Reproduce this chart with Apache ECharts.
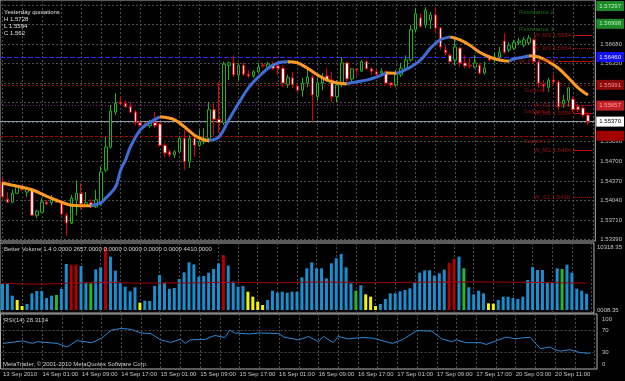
<!DOCTYPE html>
<html>
<head>
<meta charset="utf-8">
<script src="https://cdn.jsdelivr.net/npm/echarts@6/dist/echarts.min.js"></script>
<style>
html, body { margin: 0; padding: 0; background: #000; }
#chart { width: 625px; height: 381px; }
</style>
</head>
<body>
<div id="chart"></div>
<script>
const FONT = 'Liberation Sans';
const GRID_COLOR = '#4c4c4c';
const TEXT_COLOR = '#c4c4c4';

const timeLabels = ['13 Sep 2010', '14 Sep 01:00', '14 Sep 09:00', '14 Sep 17:00', '15 Sep 01:00',
    '15 Sep 09:00', '15 Sep 17:00', '16 Sep 01:00', '16 Sep 09:00', '16 Sep 17:00',
    '17 Sep 01:00', '17 Sep 09:00', '17 Sep 17:00', '20 Sep 03:00', '20 Sep 11:00'];

// [open, close, low, high]
const candles = [
    [1.5435, 1.5410, 1.5405, 1.5442], [1.5406, 1.5401, 1.5400, 1.5418], [1.5401, 1.5416, 1.5400, 1.5422],
    [1.5416, 1.5427, 1.5415, 1.5430], [1.5427, 1.5422, 1.5420, 1.5430], [1.5418, 1.5423, 1.5410, 1.5425],
    [1.5423, 1.5379, 1.5378, 1.5425], [1.5379, 1.5386, 1.5374, 1.5388], [1.5384, 1.5401, 1.5383, 1.5408],
    [1.5401, 1.5398, 1.5396, 1.5405], [1.5400, 1.5405, 1.5396, 1.5413], [1.5405, 1.5401, 1.5400, 1.5408],
    [1.5400, 1.5381, 1.5379, 1.5405], [1.5379, 1.5366, 1.5344, 1.5383], [1.5366, 1.5408, 1.5364, 1.5413],
    [1.5405, 1.5416, 1.5379, 1.5438], [1.5416, 1.5398, 1.5388, 1.5433], [1.5395, 1.5400, 1.5393, 1.5418],
    [1.5400, 1.5393, 1.5391, 1.5406], [1.5393, 1.5405, 1.5391, 1.5422], [1.5401, 1.5452, 1.5395, 1.5462],
    [1.5455, 1.5494, 1.5452, 1.5511], [1.5494, 1.5555, 1.5492, 1.5565], [1.5553, 1.5568, 1.5548, 1.5585],
    [1.5570, 1.5567, 1.5563, 1.5579], [1.5568, 1.5562, 1.5560, 1.5573], [1.5562, 1.5553, 1.5551, 1.5570],
    [1.5553, 1.5536, 1.5531, 1.5557], [1.5535, 1.5531, 1.5528, 1.5538], [1.5531, 1.5530, 1.5526, 1.5536],
    [1.5530, 1.5535, 1.5526, 1.5540], [1.5535, 1.5530, 1.5526, 1.5553], [1.5533, 1.5497, 1.5494, 1.5536],
    [1.5497, 1.5484, 1.5477, 1.5501], [1.5486, 1.5481, 1.5477, 1.5489], [1.5481, 1.5486, 1.5476, 1.5489],
    [1.5486, 1.5509, 1.5484, 1.5513], [1.5509, 1.5469, 1.5455, 1.5523], [1.5469, 1.5509, 1.5459, 1.5514],
    [1.5509, 1.5497, 1.5477, 1.5514], [1.5497, 1.5503, 1.5494, 1.5523], [1.5503, 1.5509, 1.5499, 1.5526],
    [1.5509, 1.5557, 1.5501, 1.5570], [1.5557, 1.5541, 1.5514, 1.5568], [1.5541, 1.5535, 1.5518, 1.5604],
    [1.5535, 1.5634, 1.5531, 1.5638], [1.5632, 1.5636, 1.5607, 1.5638], [1.5636, 1.5616, 1.5612, 1.5649],
    [1.5616, 1.5632, 1.5607, 1.5636], [1.5632, 1.5617, 1.5614, 1.5636], [1.5617, 1.5614, 1.5611, 1.5624],
    [1.5614, 1.5621, 1.5611, 1.5624], [1.5621, 1.5629, 1.5619, 1.5636], [1.5632, 1.5631, 1.5627, 1.5636],
    [1.5629, 1.5634, 1.5627, 1.5638], [1.5634, 1.5627, 1.5624, 1.5638], [1.5631, 1.5627, 1.5616, 1.5636],
    [1.5627, 1.5602, 1.5595, 1.5632], [1.5600, 1.5611, 1.5594, 1.5616], [1.5611, 1.5599, 1.5594, 1.5621],
    [1.5597, 1.5590, 1.5587, 1.5600], [1.5590, 1.5602, 1.5579, 1.5611], [1.5602, 1.5612, 1.5595, 1.5624],
    [1.5612, 1.5582, 1.5535, 1.5616], [1.5579, 1.5602, 1.5573, 1.5612], [1.5602, 1.5612, 1.5590, 1.5619],
    [1.5614, 1.5607, 1.5604, 1.5627], [1.5607, 1.5579, 1.5570, 1.5621], [1.5579, 1.5599, 1.5570, 1.5607],
    [1.5599, 1.5636, 1.5595, 1.5646], [1.5636, 1.5609, 1.5604, 1.5638], [1.5609, 1.5626, 1.5604, 1.5627],
    [1.5626, 1.5624, 1.5616, 1.5627], [1.5622, 1.5638, 1.5621, 1.5641], [1.5638, 1.5626, 1.5624, 1.5641],
    [1.5626, 1.5622, 1.5616, 1.5629], [1.5621, 1.5617, 1.5612, 1.5624], [1.5619, 1.5622, 1.5617, 1.5627],
    [1.5621, 1.5602, 1.5599, 1.5624], [1.5602, 1.5599, 1.5594, 1.5604], [1.5599, 1.5616, 1.5595, 1.5624],
    [1.5616, 1.5627, 1.5612, 1.5636], [1.5627, 1.5641, 1.5624, 1.5649], [1.5641, 1.5692, 1.5638, 1.5700],
    [1.5692, 1.5719, 1.5688, 1.5729], [1.5712, 1.5698, 1.5695, 1.5720], [1.5700, 1.5725, 1.5695, 1.5730],
    [1.5708, 1.5717, 1.5693, 1.5722], [1.5717, 1.5695, 1.5688, 1.5730], [1.5695, 1.5663, 1.5658, 1.5697],
    [1.5658, 1.5653, 1.5649, 1.5666], [1.5649, 1.5638, 1.5636, 1.5653], [1.5641, 1.5663, 1.5632, 1.5680],
    [1.5661, 1.5636, 1.5629, 1.5663], [1.5636, 1.5631, 1.5627, 1.5649], [1.5632, 1.5631, 1.5627, 1.5644],
    [1.5629, 1.5636, 1.5627, 1.5649], [1.5632, 1.5619, 1.5616, 1.5636], [1.5619, 1.5627, 1.5616, 1.5638],
    [1.5646, 1.5641, 1.5638, 1.5649], [1.5641, 1.5646, 1.5636, 1.5654], [1.5646, 1.5654, 1.5638, 1.5663],
    [1.5673, 1.5654, 1.5651, 1.5686], [1.5658, 1.5666, 1.5654, 1.5671], [1.5661, 1.5670, 1.5658, 1.5675],
    [1.5670, 1.5673, 1.5666, 1.5678], [1.5666, 1.5675, 1.5663, 1.5680], [1.5670, 1.5678, 1.5666, 1.5683],
    [1.5675, 1.5638, 1.5634, 1.5678], [1.5638, 1.5602, 1.5594, 1.5641], [1.5600, 1.5597, 1.5587, 1.5607],
    [1.5595, 1.5607, 1.5587, 1.5611], [1.5607, 1.5604, 1.5600, 1.5616], [1.5604, 1.5562, 1.5557, 1.5607],
    [1.5567, 1.5573, 1.5560, 1.5582], [1.5573, 1.5594, 1.5562, 1.5595], [1.5575, 1.5557, 1.5553, 1.5579],
    [1.5562, 1.5557, 1.5553, 1.5567], [1.5560, 1.5548, 1.5545, 1.5563], [1.5548, 1.5537, 1.5531, 1.5553],
];

// smoothed average, [bar index, price]
const maPoints = [
    [0, 1.5433], [3, 1.5428], [6, 1.5422], [9, 1.5411], [12, 1.5401], [14, 1.5396], [18, 1.5395],
    [20, 1.5400], [21, 1.5408], [23, 1.5427], [24, 1.5455], [25, 1.5472], [26, 1.5494], [28, 1.5523],
    [30, 1.5536], [32, 1.5545], [35, 1.5540], [37, 1.5528], [39, 1.5514], [41, 1.5506], [42, 1.5505],
    [44, 1.5511], [46, 1.5540], [48, 1.5568], [50, 1.5594], [52, 1.5612], [54, 1.5627], [56, 1.5636],
    [58, 1.5638], [60, 1.5636], [62, 1.5627], [64, 1.5616], [66, 1.5607], [68, 1.5602], [70, 1.5601],
    [72, 1.5604], [74, 1.5607], [76, 1.5612], [78, 1.5619], [80, 1.56185], [81, 1.5621], [83, 1.5629],
    [85, 1.5641], [87, 1.5661], [89, 1.5675], [91, 1.5680], [93, 1.5675], [95, 1.5666], [97, 1.5654],
    [99, 1.5646], [101, 1.5641], [103, 1.5639], [104, 1.5643], [106, 1.5646], [107, 1.5648], [109, 1.5646],
    [111, 1.5638], [113, 1.5627], [115, 1.5611], [117, 1.5594], [119, 1.5582],
];

const volumes = [
    4259, 4368, 2348, 1638, 655, 983, 2730, 3112, 3112, 1966,
    2348, 2457, 3440, 7535, 7426, 7426, 7207, 4477, 4368, 6661,
    6989, 10318, 8736, 6443, 4477, 3822, 3058, 3713, 1201, 1529,
    1474, 3931, 5733, 4477, 3440, 3604, 5078, 6170, 7808, 7480,
    5460, 5569, 6115, 6716, 7644, 9009, 7262, 4641, 3822, 3931,
    3003, 2184, 1365, 819, 1638, 3167, 2839, 3003, 2839, 3003,
    3003, 5351, 6825, 7808, 6825, 6825, 5187, 7644, 8463, 9173,
    6989, 4368, 3167, 4040, 2566, 2184, 655, 983, 1802, 2730,
    2730, 3058, 3276, 3549, 4477, 6115, 6497, 6497, 5624, 6006,
    6607, 7753, 8354, 8736, 6825, 3713, 2566, 3167, 2730, 1092,
    1037, 1638, 2184, 2184, 1966, 1802, 2184, 4914, 7043, 6552,
    6552, 4532, 4532, 6825, 6716, 7426, 6115, 3494, 3167, 2657,
];
// b = normal, r = climax, g = low volume churn, y = low volume
const volumeKinds = ('bbbyybbbbb' + 'bgbbrrbbgb' + 'brbbbbbbyb' + 'bbbbbbbbbb' + 'bbbbbrbbbb' + 'yyyybbbbbb' +
    'bbbbbbbbbb' + 'bbgbyyybbb' + 'bbbbbbbbbb' + 'brrbgbbbby' + 'ybbbbbbbbb' + 'bbbbgbbbbb').split('');
const volumeAverage = [[0, 4370], [8, 4210], [12, 4370], [22, 4540], [26, 4400], [40, 4450], [45, 4540],
    [55, 4450], [65, 4600], [75, 4450], [85, 4550], [95, 4600], [105, 4550], [119, 4410]];

const rsiPoints = [
    [0, 46.5], [4, 51], [6, 46.5], [7, 49.7], [11, 46.5], [13, 40], [15, 51.6], [18, 47.8], [20, 56],
    [22, 70.6], [24, 73.8], [26, 72], [28, 65.5], [30, 64.3], [32, 52.9], [34, 48.4], [36, 54], [37, 46.5],
    [38, 52.9], [41, 54], [43, 61], [45, 57.3], [46, 70.6], [47, 65.5], [50, 63.7], [52, 65.5], [56, 64.3],
    [57, 58], [60, 52.9], [62, 59.2], [64, 49.7], [65, 59.2], [67, 47.8], [68, 59.2], [70, 54.8], [73, 57.3],
    [75, 56], [79, 46.5], [81, 52.9], [84, 70], [87, 68.7], [89, 54.8], [91, 49.7], [92, 52.9], [94, 47.8],
    [97, 47.8], [98, 44.6], [100, 51], [102, 58], [104, 54.8], [106, 57.3], [107, 57.3], [109, 37], [111, 40],
    [112, 35], [113, 32.5], [115, 35], [117, 30], [119, 28.3],
];

const priceGrid = [1.5339, 1.5371, 1.5404, 1.5437, 1.5470, 1.5503, 1.5536, 1.5569, 1.5602, 1.5635,
    1.5668, 1.5701, 1.5734];
const priceLabels = [1.5339, 1.5371, 1.5404, 1.5437, 1.5470, 1.5503, 1.5635, 1.5668];
const PRICE_MIN = 1.53355;
const PRICE_MAX = 1.57422;

// horizontal levels: full width lines with a box on the price scale
const levelPrices = [1.5732, 1.5702, 1.5646, 1.5599, 1.5564, 1.5537, 1.5513];
const levelBoxes = ['1.57297', '1.56998', '1.56460', '1.55991', '1.55657', '1.55370', '1.55130'];
const levelNames = ['Resistance 2', 'Resistance 1', '', 'Support 1', 'Support 2', '', 'Support 3'];

// weekly pivots: short lines at the right edge
const pivotPrices = [1.5683, 1.5661, 1.5638, 1.5565, 1.5551, 1.5489, 1.5410];
const pivotNames = ['W_M3 1.5684', 'W_M3 1.5664', 'W_PP 1.5641', 'W_S1 1.5564', 'W_M1 1.5554', 'W_M2 1.5484', 'W_S1 1.5410'];

const categories = candles.map((_, i) => String(i)).concat(['']);

const levelStyles = [
    {line: 'transparent', type: 'solid', box: '#1f8a2a', text: '#b8f0b8'},
    {line: 'transparent', type: 'solid', box: '#1f8a2a', text: '#b8f0b8'},
    {line: '#2a2aff', type: [5, 2], box: '#1010f0', text: '#e0e0ff'},
    {line: '#8a0a0a', type: [2, 2], box: '#8a0a0a', text: '#ff9090'},
    {line: '#8a1a9a', type: [1, 2], box: '#c0202a', text: '#ffa0a0'},
    {line: '#8a98a4', type: 'solid', box: '#ffffff', text: '#000000'},
    {line: '#b00000', type: [3, 2], box: '#a00000', text: '#a80000'},
];
const pivotStart = [116, 116, 113, 116, 116, 116, 116];
const pivotDotted = [false, true, false, true, false, false, true];

function timeAxis(gridIndex, showLabels) {
    return {
        type: 'category', gridIndex: gridIndex, data: categories, boundaryGap: true,
        axisLine: {show: false}, axisTick: {show: false},
        axisLabel: {
            show: showLabels, interval: (i) => i % 8 === 0, align: 'left', margin: 2,
            formatter: (v, i) => timeLabels[i / 8] || '',
            color: TEXT_COLOR, fontSize: 6, fontFamily: FONT,
        },
        splitLine: {
            show: true, alignWithLabel: true, interval: (i) => i % 4 === 0,
            lineStyle: {color: GRID_COLOR, type: [2, 2], width: 1},
        },
    };
}

function buildMaRuns() {
    const runs = [];
    let rising = maPoints[1][1] > maPoints[0][1];
    let current = [maPoints[0]];
    for (let i = 1; i < maPoints.length; i++) {
        const up = maPoints[i][1] > maPoints[i - 1][1];
        if (up !== rising) {
            runs.push({rising: rising, data: current});
            current = [maPoints[i - 1]];
            rising = up;
        }
        current.push(maPoints[i]);
    }
    runs.push({rising: rising, data: current});
    return runs;
}

function levelMarkLines() {
    const lines = levelPrices.map((p, i) => ({
        yAxis: p,
        lineStyle: {color: levelStyles[i].line, type: levelStyles[i].type, width: 1, opacity: 1},
        label: {
            show: true, position: 'end', distance: 1, formatter: levelBoxes[i],
            backgroundColor: levelStyles[i].box, color: levelStyles[i].text,
            padding: [2, 3, 2, 3], fontSize: 6, fontFamily: FONT,
        },
    }));
    const pivots = pivotPrices.map((p, i) => [
        {coord: [pivotStart[i], p], lineStyle: {color: '#c01010', type: pivotDotted[i] ? [1, 1] : 'solid', width: 1}},
        {coord: [120, p]},
    ]);
    return lines.concat(pivots);
}

function annotationData() {
    const data = [];
    levelPrices.forEach((p, i) => {
        if (levelNames[i]) {
            const green = levelNames[i].startsWith('Res');
            data.push({value: [green ? 105 : 106, p - (green ? 0.0010 : 0.0009)], name: levelNames[i],
                label: {color: green ? '#1e8a1e' : '#a01414'}});
        }
    });
    pivotPrices.forEach((p, i) => {
        data.push({value: [i === 2 ? 105 : 108, p], name: pivotNames[i], label: {color: '#c01818'}});
    });
    return data;
}

const chart = echarts.init(document.getElementById('chart'), null, {renderer: 'canvas'});

const maSeries = buildMaRuns().map((run) => ({
    type: 'line', xAxisIndex: 0, yAxisIndex: 0, data: run.data, smooth: 0.35,
    symbol: 'none', silent: true, z: 4,
    lineStyle: {color: run.rising ? '#3f6fd6' : '#ff9a22', width: 3},
}));

const volumeColors = {b: '#1a8fd0', r: '#b00000', g: '#2cb52c', y: '#f4f400'};

chart.setOption({
    animation: false,
    backgroundColor: '#000',
    title: [
        {text: 'Yesterday quotations\nH 1.5728\nL 1.5594\nC 1.562', left: 4, top: 9, padding: 0,
            textStyle: {color: '#e0e0e0', fontSize: 6, fontWeight: 'normal', fontFamily: FONT, lineHeight: 7}},
        {text: 'Better Volume 1.4 0.0000 2657.0000 0.0000 0.0000 0.0000 0.0000 4410.0000', left: 4, top: 246,
            padding: 0, textStyle: {color: '#d0d0d0', fontSize: 6, fontWeight: 'normal', fontFamily: FONT}},
        {text: 'RSI(14) 28.3134', left: 4, top: 317, padding: 0,
            textStyle: {color: '#d0d0d0', fontSize: 6, fontWeight: 'normal', fontFamily: FONT}},
        {text: 'MetaTrader, © 2001-2010 MetaQuotes Software Corp.', left: 3, top: 361, padding: 0,
            textStyle: {color: '#d0d0d0', fontSize: 6, fontWeight: 'normal', fontFamily: FONT}},
    ],
    grid: [
        {left: 0, right: 28, top: 0, height: 241, show: true, borderColor: '#b4b4b4', borderWidth: 1},
        {left: 0, right: 28, top: 243, height: 70, show: true, borderColor: '#b4b4b4', borderWidth: 1},
        {left: 0, right: 28, top: 314, height: 55, show: true, borderColor: '#b4b4b4', borderWidth: 1},
    ],
    xAxis: [timeAxis(0, false), timeAxis(1, false), timeAxis(2, true)],
    yAxis: [
        {
            type: 'value', gridIndex: 0, position: 'right', min: PRICE_MIN, max: PRICE_MAX,
            axisLine: {show: false},
            axisTick: {show: false, customValues: priceGrid},
            axisLabel: {customValues: priceLabels, formatter: (v) => v.toFixed(5), margin: 5,
                color: TEXT_COLOR, fontSize: 6, fontFamily: FONT},
            splitLine: {show: true, lineStyle: {color: GRID_COLOR, type: [2, 2]}},
        },
        {
            type: 'value', gridIndex: 1, position: 'right', min: -490, max: 10975,
            axisLine: {show: false},
            axisTick: {show: false, customValues: [10318.35]},
            axisLabel: {customValues: [10318.35, 0], formatter: (v) => (v > 0 ? '10318.35' : '0008.35'),
                margin: 3, color: TEXT_COLOR, fontSize: 6, fontFamily: FONT},
            splitLine: {show: false},
        },
        {
            type: 'value', gridIndex: 2, position: 'right', min: 0, max: 100,
            axisLine: {show: false},
            axisTick: {show: false, customValues: [30, 70]},
            axisLabel: {
                customValues: [0, 30, 70, 100], margin: 5, color: TEXT_COLOR, fontSize: 6, fontFamily: FONT,
                formatter: (v) => (v === 100 ? '{top|100}' : v === 0 ? '{bot|0}' : String(v)),
                rich: {top: {padding: [10, 0, 0, 0], fontSize: 6}, bot: {padding: [0, 0, 10, 0], fontSize: 6}},
            },
            splitLine: {show: true, lineStyle: {color: GRID_COLOR, type: [2, 2]}},
        },
    ],
    series: [
        {
            type: 'candlestick', xAxisIndex: 0, yAxisIndex: 0, data: candles, barWidth: 3, z: 3,
            itemStyle: {color: '#000', color0: '#ffffff', borderColor: '#22b022', borderColor0: '#e00000', borderWidth: 1},
            markLine: {symbol: 'none', silent: true, z: 2, precision: 6, data: levelMarkLines(), label: {show: false}},
        },
        ...maSeries,
        {
            type: 'scatter', xAxisIndex: 0, yAxisIndex: 0, data: annotationData(), symbolSize: 0, silent: true, z: 5,
            label: {show: true, position: 'right', distance: 0, formatter: (p) => p.name,
                fontSize: 6, fontFamily: FONT},
        },
        {
            type: 'bar', xAxisIndex: 1, yAxisIndex: 1, barWidth: 3, silent: true,
            data: volumes.map((v, i) => ({value: v, itemStyle: {color: volumeColors[volumeKinds[i]]}})),
        },
        {
            type: 'line', xAxisIndex: 1, yAxisIndex: 1, data: volumeAverage, symbol: 'none', silent: true,
            lineStyle: {color: '#a00000', width: 1},
        },
        {
            type: 'line', xAxisIndex: 2, yAxisIndex: 2, data: rsiPoints, symbol: 'none', silent: true,
            lineStyle: {color: '#2a8ad8', width: 1},
        },
    ],
});
</script>
</body>
</html>
